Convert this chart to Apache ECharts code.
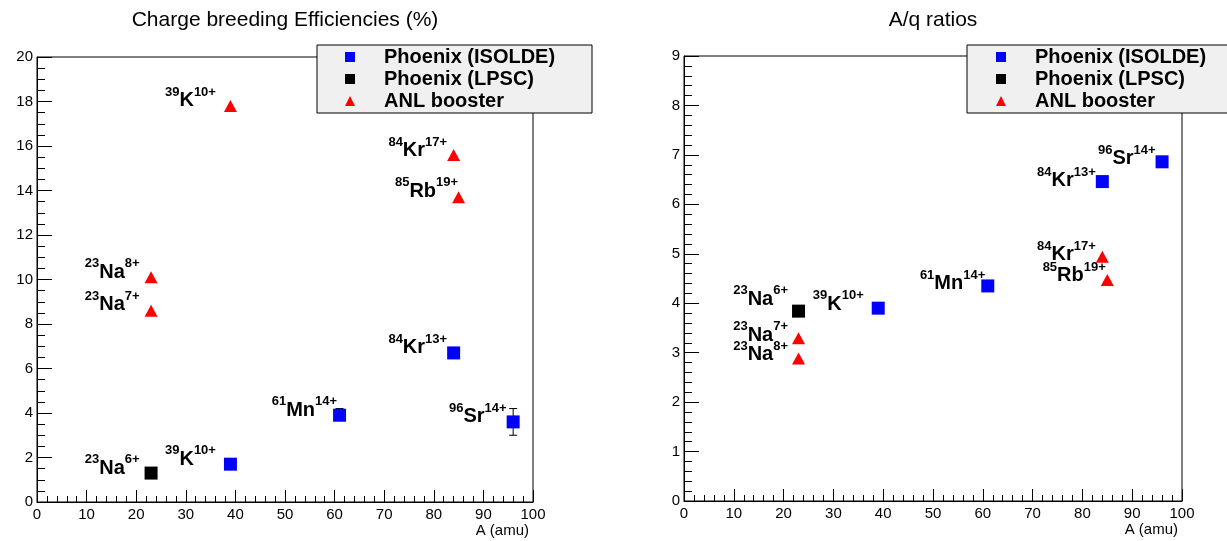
<!DOCTYPE html>
<html>
<head>
<meta charset="utf-8">
<title>Charge breeding efficiencies and A/q ratios</title>
<script src="https://cdn.jsdelivr.net/npm/echarts@6/dist/echarts.min.js"></script>
<style>
  html, body { margin: 0; padding: 0; background: #fff; }
  #chart { width: 1227px; height: 541px; }
</style>
</head>
<body>
<div id="chart"></div>
<script>
// mass numbers (amu) of the ions on each plot
const isoldeA = [39, 61, 84, 96]
const lpscA = [23]
const anlEffA = [39, 84, 85, 23, 23]
const anlAqA = [84, 85, 23, 23]

// ion names: [mass, element, charge]
const isoldeIons = [['39', 'K', '10+'], ['61', 'Mn', '14+'], ['84', 'Kr', '13+'], ['96', 'Sr', '14+']]
const lpscIons = [['23', 'Na', '6+']]
const anlEffIons = [['39', 'K', '10+'], ['84', 'Kr', '17+'], ['85', 'Rb', '19+'], ['23', 'Na', '8+'], ['23', 'Na', '7+']]
const anlAqIons = [['84', 'Kr', '17+'], ['85', 'Rb', '19+'], ['23', 'Na', '8+'], ['23', 'Na', '7+']]

// charge breeding efficiencies (%)
const isoldeEff = [1.7, 3.9, 6.7, 3.6]
const lpscEff = [1.3]
const anlEff = [17.8, 15.6, 13.7, 10.1, 8.6]
// error bars: [A, low, high]
const isoldeEffErr = [[61, 3.75, 4.2], [96, 3.0, 4.2]]

// A/q ratios
const isoldeAq = [3.9, 4.35, 6.46, 6.86]
const lpscAq = [3.84]
const anlAq = [4.94, 4.47, 2.88, 3.29]

// axis ranges
const massRange = [0, 100, 10]
const effRange = [0, 20, 2]
const aqRange = [0, 9, 1]

const legendNames = ['Phoenix (ISOLDE)', 'Phoenix (LPSC)', 'ANL booster']

// label nudges [dx, dy] so each ion name sits up-left of its marker
const effShift = {
  isolde: [[-8, -5], [4, -5], [0, -5], [0, -5]],
  lpsc: [[-5, -5]],
  anl: [[-8, -5], [0, -4], [6, -6], [-5, -5], [-5, -6]]
}
const aqShift = {
  isolde: [[-8, -4], [4, -2], [0, -1], [0, -3]],
  lpsc: [[-4, -12]],
  anl: [[0, -2], [5, -4], [-4, -4], [-4, -3]]
}

const font = 'Liberation Sans'

const ionLabel = {
  show: true,
  position: 'left',
  distance: 0,
  formatter: p => '{s|' + p.data.ion[0] + '}{m|' + p.data.ion[1] + '}{s|' + p.data.ion[2] + '}',
  rich: {
    m: { fontSize: 20, fontWeight: 'bold', color: '#000', fontFamily: font, lineHeight: 30, verticalAlign: 'middle' },
    s: { fontSize: 13, fontWeight: 'bold', color: '#000', fontFamily: font, lineHeight: 14, verticalAlign: 'top' }
  }
}

function points(xs, ys, ions, shifts) {
  return xs.map((a, i) => ({ value: [a, ys[i]], ion: ions[i], label: { offset: shifts[i] } }))
}

function scatter(name, grid, symbol, size, color, data) {
  return {
    type: 'scatter',
    name: name,
    xAxisIndex: grid,
    yAxisIndex: grid,
    symbol: symbol,
    symbolSize: size,
    itemStyle: { color: color, opacity: 1 },
    label: ionLabel,
    emphasis: { disabled: true },
    z: 3,
    data: data
  }
}

function errorBars(grid, data) {
  return {
    type: 'custom',
    xAxisIndex: grid,
    yAxisIndex: grid,
    encode: { x: 0, y: [1, 2] },
    z: 2,
    silent: true,
    renderItem: (params, api) => {
      const lo = api.coord([api.value(0), api.value(1)])
      const hi = api.coord([api.value(0), api.value(2)])
      const style = { stroke: '#000', lineWidth: 1 }
      return {
        type: 'group',
        children: [
          { type: 'line', shape: { x1: lo[0], y1: lo[1], x2: hi[0], y2: hi[1] }, style: style },
          { type: 'line', shape: { x1: hi[0] - 4, y1: hi[1], x2: hi[0] + 4, y2: hi[1] }, style: style },
          { type: 'line', shape: { x1: lo[0] - 4, y1: lo[1], x2: lo[0] + 4, y2: lo[1] }, style: style }
        ]
      }
    },
    data: data
  }
}

function xAxis(grid) {
  return {
    type: 'value',
    gridIndex: grid,
    min: massRange[0],
    max: massRange[1],
    interval: massRange[2],
    splitLine: { show: false },
    axisLine: { lineStyle: { color: '#000', width: 1 } },
    axisTick: { inside: true, length: 12, lineStyle: { color: '#000' } },
    minorTick: { show: true, splitNumber: 5, length: 6, lineStyle: { color: '#000' } },
    axisLabel: { fontSize: 15, color: '#000', fontFamily: font, margin: 5 },
    name: 'A (amu)',
    nameLocation: 'end',
    nameGap: 0,
    nameMoveOverlap: false,
    nameTextStyle: { fontSize: 15, color: '#000', fontFamily: font, align: 'right', verticalAlign: 'top', padding: [21, 4, 0, 0] }
  }
}

function yAxis(grid, range, minorSplit) {
  return {
    type: 'value',
    gridIndex: grid,
    min: range[0],
    max: range[1],
    interval: range[2],
    splitLine: { show: false },
    axisLine: { show: true, lineStyle: { color: '#000', width: 1 } },
    axisTick: { show: true, inside: true, length: 15, lineStyle: { color: '#000' } },
    minorTick: { show: true, splitNumber: minorSplit, length: 8, lineStyle: { color: '#000' } },
    axisLabel: { fontSize: 15, color: '#000', fontFamily: font, margin: 4 }
  }
}

function legendBox(left, padLeft) {
  return {
    left: left,
    top: 45,
    orient: 'vertical',
    selectedMode: false,
    itemWidth: 10,
    itemHeight: 10,
    itemGap: 0,
    padding: [1, 0, 1, padLeft],
    backgroundColor: '#f0f0f0',
    borderColor: '#000',
    borderWidth: 1,
    borderRadius: 0,
    textStyle: { fontSize: 20, fontWeight: 'bold', color: '#000', fontFamily: font, lineHeight: 22, width: 208, padding: [0, 0, 0, 24] },
    data: [
      { name: legendNames[0], icon: 'rect' },
      { name: legendNames[1], icon: 'rect' },
      { name: legendNames[2], icon: 'triangle' }
    ]
  }
}

const chart = echarts.init(document.getElementById('chart'), null, { renderer: 'canvas' })

chart.setOption({
  animation: false,
  backgroundColor: '#fff',
  textStyle: { fontFamily: font },
  graphic: [
    { type: 'text', x: 285, y: 20, style: { text: 'Charge breeding Efficiencies (%)', font: '21px "Liberation Sans"', fill: '#000', textAlign: 'center', textVerticalAlign: 'middle', verticalAlign: 'middle' } },
    { type: 'text', x: 933, y: 20, style: { text: 'A/q ratios', font: '21px "Liberation Sans"', fill: '#000', textAlign: 'center', textVerticalAlign: 'middle', verticalAlign: 'middle' } }
  ],
  legend: [legendBox(317, 28), legendBox(967, 29)],
  grid: [
    { left: 37, top: 57, width: 496, height: 445, show: true, borderColor: '#000', borderWidth: 1, backgroundColor: 'transparent', outerBoundsMode: 'none', containLabel: false },
    { left: 684, top: 56, width: 498, height: 445, show: true, borderColor: '#000', borderWidth: 1, backgroundColor: 'transparent', outerBoundsMode: 'none', containLabel: false }
  ],
  xAxis: [xAxis(0), xAxis(1)],
  yAxis: [yAxis(0, effRange, 4), yAxis(1, aqRange, 5)],
  series: [
    errorBars(0, isoldeEffErr),
    scatter(legendNames[0], 0, 'rect', 13, '#0000ff', points(isoldeA, isoldeEff, isoldeIons, effShift.isolde)),
    scatter(legendNames[1], 0, 'rect', 13, '#000000', points(lpscA, lpscEff, lpscIons, effShift.lpsc)),
    scatter(legendNames[2], 0, 'triangle', [13, 12], '#ff0000', points(anlEffA, anlEff, anlEffIons, effShift.anl)),
    scatter(legendNames[0], 1, 'rect', 13, '#0000ff', points(isoldeA, isoldeAq, isoldeIons, aqShift.isolde)),
    scatter(legendNames[1], 1, 'rect', 13, '#000000', points(lpscA, lpscAq, lpscIons, aqShift.lpsc)),
    scatter(legendNames[2], 1, 'triangle', [13, 12], '#ff0000', points(anlAqA, anlAq, anlAqIons, aqShift.anl))
  ]
})
</script>
</body>
</html>
